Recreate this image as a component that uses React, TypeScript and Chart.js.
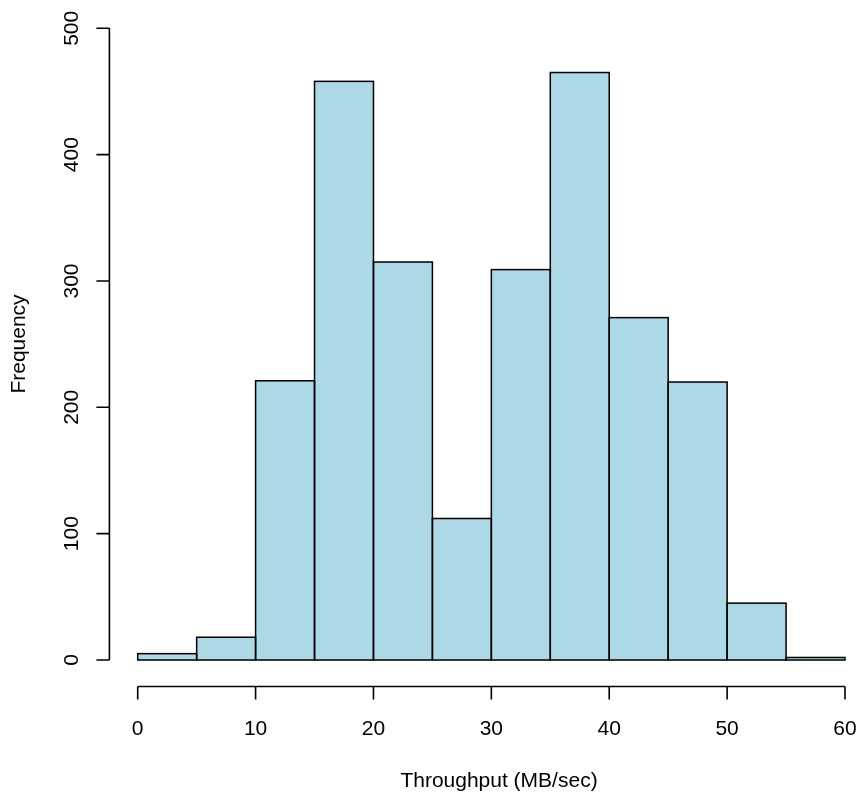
import React, { useEffect, useRef } from "react";
import { Chart, registerables } from "chart.js";

Chart.register(...registerables);

const binStarts = [0, 5, 10, 15, 20, 25, 30, 35, 40, 45, 50, 55];
const binWidth = 5;
const counts = [5, 18, 221, 458, 315, 112, 309, 465, 271, 220, 45, 2];
const xTicks = [0, 10, 20, 30, 40, 50, 60];
const yTicks = [0, 100, 200, 300, 400, 500];
const xTitle = "Throughput (MB/sec)";
const yTitle = "Frequency";

const FONT = '21px "Liberation Sans", Arial, Helvetica, sans-serif';

const barOutlinePlugin = {
  id: "barOutline",
  afterDatasetsDraw(chart: any) {
    const ctx = chart.ctx;
    const meta = chart.getDatasetMeta(0);
    ctx.save();
    ctx.strokeStyle = "#000";
    ctx.lineWidth = 1.5;
    for (const el of meta.data) {
      const p = el.getProps(["x", "y", "base", "width"], true);
      const left = p.x - p.width / 2;
      const top = Math.min(p.y, p.base);
      const h = Math.abs(p.base - p.y);
      ctx.strokeRect(left, top, p.width, h);
    }
    ctx.restore();
  },
};

const rAxesPlugin = {
  id: "rAxes",
  afterDraw(chart: any) {
    const ctx = chart.ctx;
    const xs = chart.scales.x;
    const ys = chart.scales.y;
    ctx.save();
    ctx.strokeStyle = "#000";
    ctx.fillStyle = "#000";
    ctx.lineWidth = 1.6;
    ctx.font = FONT;

    // x axis (R style, offset below plot)
    const axY = ys.getPixelForValue(-21);
    const x0 = xs.getPixelForValue(xTicks[0]);
    const x1 = xs.getPixelForValue(xTicks[xTicks.length - 1]);
    ctx.beginPath();
    ctx.moveTo(x0, axY);
    ctx.lineTo(x1, axY);
    for (const t of xTicks) {
      const px = xs.getPixelForValue(t);
      ctx.moveTo(px, axY);
      ctx.lineTo(px, axY + 13);
    }
    ctx.stroke();
    ctx.textAlign = "center";
    ctx.textBaseline = "alphabetic";
    for (const t of xTicks) {
      ctx.fillText(String(t), xs.getPixelForValue(t), 735);
    }

    // y axis
    const axX = xs.getPixelForValue(-2.4);
    const y0 = ys.getPixelForValue(yTicks[0]);
    const y1 = ys.getPixelForValue(yTicks[yTicks.length - 1]);
    ctx.beginPath();
    ctx.moveTo(axX, y0);
    ctx.lineTo(axX, y1);
    for (const t of yTicks) {
      const py = ys.getPixelForValue(t);
      ctx.moveTo(axX, py);
      ctx.lineTo(axX - 13, py);
    }
    ctx.stroke();
    for (const t of yTicks) {
      const py = ys.getPixelForValue(t);
      ctx.save();
      ctx.translate(77.5, py);
      ctx.rotate(-Math.PI / 2);
      ctx.textAlign = "center";
      ctx.textBaseline = "alphabetic";
      ctx.fillText(String(t), 0, 0);
      ctx.restore();
    }

    // titles
    ctx.textAlign = "center";
    ctx.textBaseline = "alphabetic";
    ctx.fillText(xTitle, 499, 787);
    ctx.save();
    ctx.translate(25, 344);
    ctx.rotate(-Math.PI / 2);
    ctx.fillText(yTitle, 0, 0);
    ctx.restore();

    ctx.restore();
  },
};

export default function App() {
  const ref = useRef<HTMLCanvasElement | null>(null);

  useEffect(() => {
    if (!ref.current) return;
    const chart = new Chart(ref.current, {
      type: "bar",
      data: {
        datasets: [
          {
            data: binStarts.map((b, i) => ({ x: b + binWidth / 2, y: counts[i] })),
            backgroundColor: "#ADD8E6",
            borderWidth: 0,
            barPercentage: 1,
            categoryPercentage: 1,
            clip: false,
          } as any,
        ],
      },
      options: {
        animation: false,
        responsive: false,
        maintainAspectRatio: false,
        events: [],
        layout: { padding: { left: 137.7, right: 16, top: 28.3, bottom: 132 } },
        plugins: { legend: { display: false }, tooltip: { enabled: false } },
        scales: {
          x: { type: "linear", min: 0, max: 60, display: false, offset: false },
          y: { type: "linear", min: 0, max: 500, display: false },
        },
      },
      plugins: [barOutlinePlugin, rAxesPlugin],
    });
    return () => chart.destroy();
  }, []);

  return (
    <div style={{ position: "absolute", left: 0, top: 0, width: 861, height: 792, background: "#fff" }}>
      <canvas ref={ref} width={861} height={792} style={{ display: "block", width: 861, height: 792 }} />
    </div>
  );
}
